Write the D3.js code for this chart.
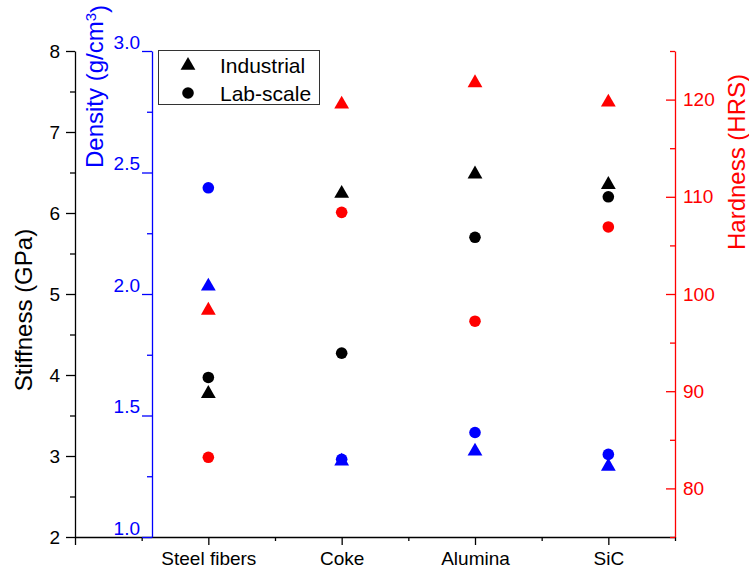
<!DOCTYPE html>
<html><head><meta charset="utf-8">
<script src="https://cdn.jsdelivr.net/npm/d3@7"></script>
<style>
html,body{margin:0;padding:0;background:#fff;}
svg{display:block;font-family:"Liberation Sans",Arial,sans-serif;}
</style></head>
<body><svg id="chart" width="749" height="573"></svg>
<script>
const categories = ["Steel fibers", "Coke", "Alumina", "SiC"];
const stiffnessIndustrial = [3.78, 6.25, 6.49, 6.36];
const stiffnessLab = [3.97, 4.27, 5.70, 6.20];
const densityIndustrial = [2.035, 1.315, 1.356, 1.294];
const densityLab = [2.437, 1.32, 1.43, 1.34];
const hardnessIndustrial = [98.4, 119.6, 121.8, 119.8];
const hardnessLab = [83.2, 108.4, 97.2, 106.9];
const stiffnessTicks = [2, 3, 4, 5, 6, 7, 8];
const densityTicks = [1.0, 1.5, 2.0, 2.5, 3.0];
const hardnessTicks = [80, 90, 100, 110, 120];
const legendLabels = ["Industrial", "Lab-scale"];

const svg = d3.select("#chart");
const L = 75, R = 675, T = 51, B = 537;
const x = d3.scaleLinear().domain([0, 4.5]).range([L, R]);
const yS = d3.scaleLinear().domain([2, 8]).range([B, T]);
const yD = d3.scaleLinear().domain([1, 3]).range([B, T]);
const yH = d3.scaleLinear().domain([75, 125]).range([B, T]);

function style(g, color, fs) {
  g.selectAll("path,line").attr("stroke", color).attr("stroke-width", 1.3);
  g.selectAll("text").attr("fill", color).attr("font-size", fs).attr("font-family", "Liberation Sans, Arial, sans-serif");
}

// bottom axis
const gx = svg.append("g").attr("transform", `translate(0,${B})`)
  .call(d3.axisBottom(x).tickValues([0, 1, 2, 3, 4]).tickSize(8).tickSizeOuter(0).tickPadding(7)
    .tickFormat(d => d >= 1 ? categories[d - 1] : ""));
style(gx, "#000", 19);
const gxm = svg.append("g").attr("transform", `translate(0,${B})`)
  .call(d3.axisBottom(x).tickValues([0.5, 1.5, 2.5, 3.5, 4.5]).tickSize(4).tickFormat(""));
gxm.select(".domain").remove();
style(gxm, "#000", 19);

// left stiffness axis
const gs = svg.append("g").attr("transform", `translate(${L},0)`)
  .call(d3.axisLeft(yS).tickValues(stiffnessTicks).tickSize(9).tickSizeOuter(0).tickPadding(6).tickFormat(d3.format("d")));
style(gs, "#000", 19);
const gsm = svg.append("g").attr("transform", `translate(${L},0)`)
  .call(d3.axisLeft(yS).tickValues(d3.range(2.5, 8, 1)).tickSize(5).tickFormat(""));
gsm.select(".domain").remove();
style(gsm, "#000", 19);

// blue density axis
const xD = 152;
const gd = svg.append("g").attr("transform", `translate(${xD},0)`)
  .call(d3.axisLeft(yD).tickValues(densityTicks).tickSize(10).tickSizeOuter(0).tickPadding(2).tickFormat(d3.format(".1f")));
style(gd, "#0000ff", 19);
gd.selectAll("text").attr("dy", "-0.15em");
const gdm = svg.append("g").attr("transform", `translate(${xD},0)`)
  .call(d3.axisLeft(yD).tickValues([1.25, 1.75, 2.25, 2.75]).tickSize(5).tickFormat(""));
gdm.select(".domain").remove();
style(gdm, "#0000ff", 19);

// red hardness axis
const gh = svg.append("g").attr("transform", `translate(${R},0)`)
  .call(d3.axisRight(yH).tickValues(hardnessTicks).tickSizeInner(-9).tickSizeOuter(0).tickPadding(8).tickFormat(d3.format("d")));
style(gh, "#ff0000", 19);
const ghm = svg.append("g").attr("transform", `translate(${R},0)`)
  .call(d3.axisRight(yH).tickValues([75, 85, 95, 105, 115, 125]).tickSizeInner(-5).tickFormat(""));
ghm.select(".domain").remove();
style(ghm, "#ff0000", 19);

// axis titles
svg.append("text").attr("transform", `translate(32,310) rotate(-90)`).attr("text-anchor", "middle")
  .attr("font-size", 24).attr("fill", "#000").text("Stiffness (GPa)");
const dt = svg.append("text").attr("transform", `translate(103,168) rotate(-90)`).attr("text-anchor", "start")
  .attr("font-size", 24).attr("fill", "#0000ff");
dt.append("tspan").text("Density (g/cm");
dt.append("tspan").attr("dy", "-0.45em").attr("font-size", 15).text("3");
dt.append("tspan").attr("dy", "0.45em").text(")");
svg.append("text").attr("transform", `translate(745,162) rotate(-90)`).attr("text-anchor", "middle")
  .attr("font-size", 24).attr("fill", "#ff0000").text("Hardness (HRS)");

// markers
const tri = d3.symbol().type(d3.symbolTriangle).size(95);
function triangles(vals, scale, color) {
  svg.append("g").selectAll("path").data(vals).join("path")
    .attr("d", tri)
    .attr("transform", (d, i) => `translate(${x(i + 1)},${scale(d) + 0.8})`)
    .attr("fill", color);
}
function circles(vals, scale, color) {
  svg.append("g").selectAll("circle").data(vals).join("circle")
    .attr("cx", (d, i) => x(i + 1)).attr("cy", d => scale(d)).attr("r", 5.8)
    .attr("fill", color);
}
triangles(stiffnessIndustrial, yS, "#000");
circles(stiffnessLab, yS, "#000");
triangles(densityIndustrial, yD, "#0000ff");
circles(densityLab, yD, "#0000ff");
triangles(hardnessIndustrial, yH, "#ff0000");
circles(hardnessLab, yH, "#ff0000");

// legend
const lg = svg.append("g");
lg.append("rect").attr("x", 158.5).attr("y", 50.5).attr("width", 161).attr("height", 54)
  .attr("fill", "#fff").attr("stroke", "#333").attr("stroke-width", 1);
lg.append("path").attr("d", tri).attr("transform", "translate(188,65.5)").attr("fill", "#000");
lg.append("circle").attr("cx", 188).attr("cy", 93).attr("r", 5.8).attr("fill", "#000");
lg.selectAll("text").data(legendLabels).join("text")
  .attr("x", 220).attr("y", (d, i) => 72.5 + i * 28)
  .attr("font-size", 21).attr("fill", "#000").text(d => d);
</script></body></html>
